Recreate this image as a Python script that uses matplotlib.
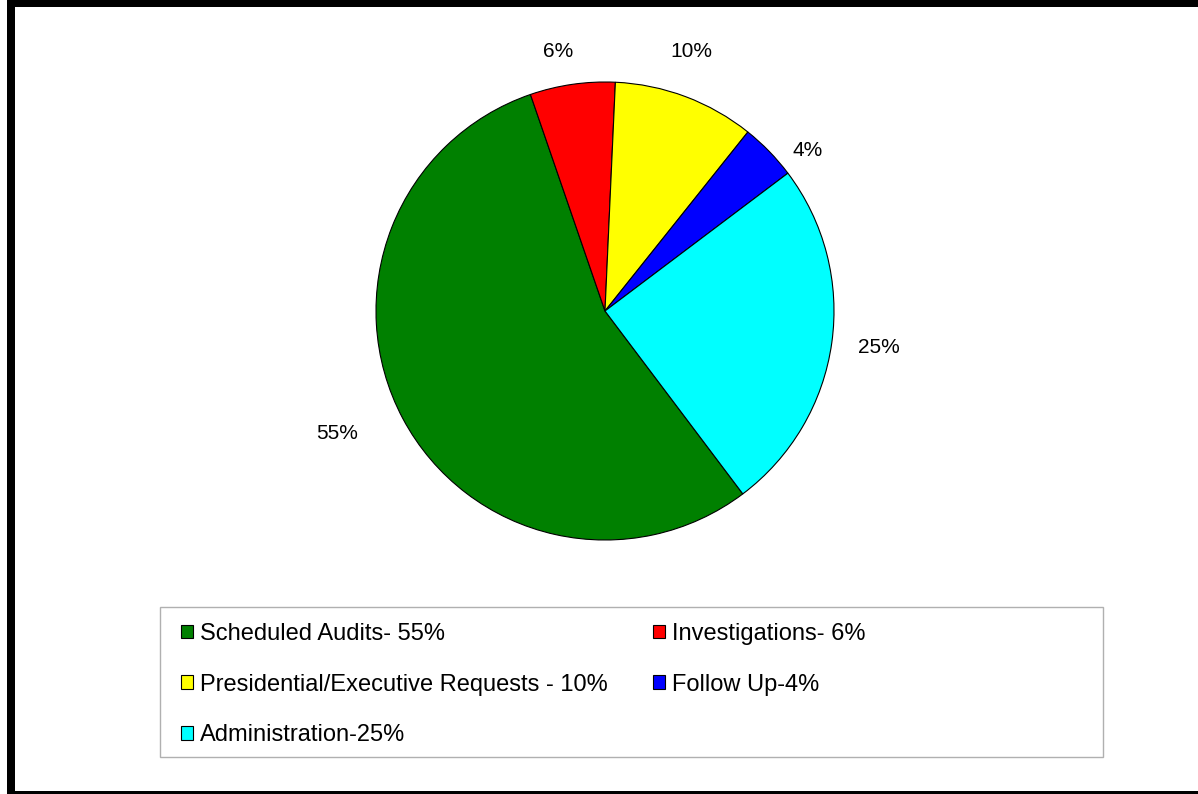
import matplotlib
matplotlib.use("Agg")
import matplotlib.pyplot as plt
from matplotlib.patches import Rectangle
import numpy as np

plt.rcParams["font.family"] = ["Liberation Sans", "DejaVu Sans"]

# audit time allocation
categories = [
    "Scheduled Audits- 55%",
    "Investigations- 6%",
    "Presidential/Executive Requests - 10%",
    "Follow Up-4%",
    "Administration-25%",
]
shares = [55, 6, 10, 4, 25]
pct_labels = ["55%", "6%", "10%", "4%", "25%"]
colors = ["#008000", "#FF0000", "#FFFF00", "#0000FF", "#00FFFF"]

# label placement: distance in pie radii and a small angular nudge (deg)
label_dist = [1.283, 1.16, 1.203, 1.137, 1.203]
label_nudge = [-4.0, 1.9, 2.3, -5.4, 1.0]

W, H = 1198, 794
fig = plt.figure(figsize=(W / 100, H / 100), dpi=100)
fig.patch.set_facecolor("white")

# pie area: centre (605, 311) px, radius 229 px
cx, cy, r = 605, 311, 229
ax = fig.add_axes([(cx - r) / W, (H - cy - r) / H, 2 * r / W, 2 * r / H])
wedges, _ = ax.pie(
    shares,
    colors=colors,
    startangle=-53,
    counterclock=False,
    wedgeprops=dict(edgecolor="black", linewidth=0.8),
)
ax.set_xlim(-1, 1)
ax.set_ylim(-1, 1)
ax.set_aspect("equal")

for w, txt, d, nd in zip(wedges, pct_labels, label_dist, label_nudge):
    mid = np.deg2rad((w.theta1 + w.theta2) / 2 + nd)
    ax.annotate(txt, (d * np.cos(mid), d * np.sin(mid)),
                xytext=(0, -1.8), textcoords="offset points",
                ha="center", va="center", fontsize=15, annotation_clip=False)

# legend, filled column by column so rows read left to right
order = [0, 2, 4, 1, 3]
handles = [Rectangle((0, 0), 1, 1, facecolor=colors[i], edgecolor="black", linewidth=0.8)
           for i in order]
labels = [categories[i] for i in order]
fig.legend(
    handles, labels,
    ncol=2,
    loc="upper left",
    bbox_to_anchor=(181 / W, 1 - 623 / H),
    frameon=False,
    fontsize=17,
    handlelength=0.51,
    handleheight=0.51,
    handletextpad=0.3,
    labelspacing=1.21,
    columnspacing=1.9,
    borderpad=0,
    borderaxespad=0,
)

# legend frame
fig.patches.append(Rectangle((160 / W, 1 - 757 / H), 943 / W, 150 / H,
                             transform=fig.transFigure, fill=False,
                             edgecolor="#b0b0b0", linewidth=1))

# outer chart border (left, top, bottom)
fig.patches.append(Rectangle((7 / W, 0), 8 / W, 1, transform=fig.transFigure,
                             facecolor="black", edgecolor="none"))
fig.patches.append(Rectangle((7 / W, 1 - 7 / H), 1, 7 / H, transform=fig.transFigure,
                             facecolor="black", edgecolor="none"))
fig.patches.append(Rectangle((7 / W, 0), 1, 3 / H, transform=fig.transFigure,
                             facecolor="black", edgecolor="none"))

fig.savefig("out.png", dpi=100, facecolor="white")
